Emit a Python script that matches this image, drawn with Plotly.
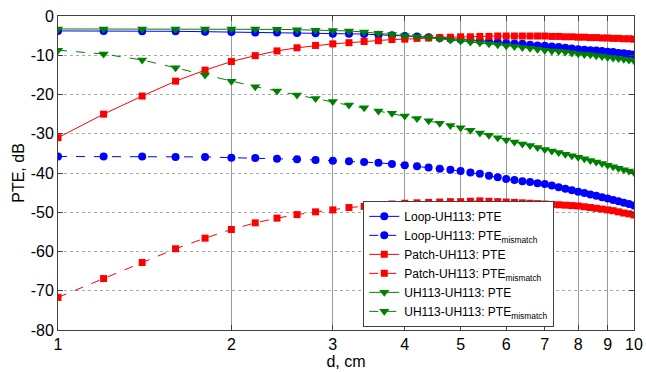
import plotly.graph_objects as go

d_cm = [1.0, 1.2, 1.4, 1.6, 1.8, 2.0, 2.2, 2.4, 2.6, 2.8, 3.0, 3.2, 3.4, 3.6, 3.8,
        4.0, 4.2, 4.4, 4.6, 4.8, 5.0, 5.2, 5.4, 5.6, 5.8, 6.0, 6.2, 6.4, 6.6, 6.8,
        7.0, 7.2, 7.4, 7.6, 7.8, 8.0, 8.2, 8.4, 8.6, 8.8, 9.0, 9.2, 9.4, 9.6, 9.8, 10.0]

loop_pte = [-3.8, -3.8, -3.9, -3.9, -4.0, -4.1, -4.2, -4.2, -4.3, -4.4, -4.5, -4.5, -4.6, -4.8, -4.9,
            -5.1, -5.2, -5.4, -5.6, -5.8, -6.0, -6.1, -6.3, -6.5, -6.7, -6.9, -7.0, -7.1, -7.3, -7.5,
            -7.6, -7.8, -7.9, -8.1, -8.3, -8.5, -8.6, -8.7, -8.8, -8.9, -9.1, -9.2, -9.4, -9.5, -9.7, -9.8]
loop_mis = [-35.8, -35.8, -35.8, -35.9, -35.9, -36.1, -36.2, -36.4, -36.5, -36.7, -36.9, -37.0, -37.2, -37.4, -37.7,
            -38.0, -38.3, -38.6, -38.9, -39.2, -39.5, -39.9, -40.2, -40.7, -41.1, -41.5, -41.8, -42.1, -42.3, -42.6,
            -42.8, -43.2, -43.6, -44.0, -44.4, -44.8, -45.1, -45.5, -45.8, -46.2, -46.5, -46.9, -47.2, -47.6, -47.9, -48.3]
patch_pte = [-31.0, -25.0, -20.4, -16.6, -13.8, -11.6, -10.1, -8.9, -8.1, -7.5, -7.1, -6.8, -6.5, -6.3, -6.0,
             -5.9, -5.7, -5.6, -5.5, -5.4, -5.3, -5.3, -5.2, -5.2, -5.1, -5.1, -5.1, -5.1, -5.1, -5.1,
             -5.1, -5.2, -5.2, -5.3, -5.3, -5.4, -5.4, -5.5, -5.5, -5.6, -5.6, -5.7, -5.7, -5.8, -5.8, -5.9]
patch_mis = [-71.7, -66.9, -62.8, -59.3, -56.6, -54.4, -52.7, -51.5, -50.6, -49.9, -49.4, -48.8, -48.5, -48.2, -47.9,
             -47.7, -47.6, -47.5, -47.4, -47.3, -47.3, -47.2, -47.1, -47.2, -47.3, -47.4, -47.5, -47.6, -47.7, -47.8,
             -47.9, -48.0, -48.1, -48.2, -48.3, -48.4, -48.6, -48.8, -49.0, -49.2, -49.4, -49.6, -49.9, -50.2, -50.4, -50.7]
uh_pte = [-3.3, -3.3, -3.3, -3.3, -3.3, -3.3, -3.3, -3.4, -3.5, -3.6, -3.7, -3.8, -4.1, -4.4, -4.7,
          -5.0, -5.2, -5.5, -5.8, -6.1, -6.4, -6.6, -6.8, -7.1, -7.3, -7.6, -7.8, -8.0, -8.2, -8.5,
          -8.7, -8.9, -9.0, -9.2, -9.4, -9.6, -9.8, -9.9, -10.1, -10.3, -10.5, -10.7, -10.8, -11.0, -11.2, -11.4]
uh_mis = [-8.7, -9.7, -11.2, -13.2, -15.0, -16.6, -18.0, -19.1, -20.1, -21.0, -21.8, -22.7, -23.4, -24.2, -24.8,
          -25.5, -26.1, -26.7, -27.3, -27.9, -28.5, -29.1, -29.8, -30.4, -31.0, -31.6, -32.1, -32.6, -33.0, -33.5,
          -34.0, -34.4, -34.8, -35.2, -35.6, -36.0, -36.4, -36.8, -37.2, -37.6, -38.0, -38.4, -38.8, -39.2, -39.5, -39.9]

x_ticks = [1, 2, 3, 4, 5, 6, 7, 8, 9, 10]
y_ticks = [0, -10, -20, -30, -40, -50, -60, -70, -80]

series = [
    ("Loop-UH113: PTE", loop_pte, "#0000ff", "circle", "solid", 8),
    ("Loop-UH113: PTE<sub>mismatch</sub>", loop_mis, "#0000ff", "circle", "dash", 8),
    ("Patch-UH113: PTE", patch_pte, "#ff0000", "square", "solid", 7),
    ("Patch-UH113: PTE<sub>mismatch</sub>", patch_mis, "#ff0000", "square", "dash", 7),
    ("UH113-UH113: PTE", uh_pte, "#008000", "triangle-down", "solid", 9),
    ("UH113-UH113: PTE<sub>mismatch</sub>", uh_mis, "#008000", "triangle-down", "dash", 9),
]

fig = go.Figure()
for name, vals, col, sym, dash, ms in series:
    fig.add_trace(go.Scatter(
        x=d_cm, y=vals, name=name, mode="lines+markers",
        line=dict(color=col, width=1, dash=dash),
        marker=dict(color=col, symbol=sym, size=ms, line=dict(width=0)),
    ))

fam = "Liberation Sans, Arial, sans-serif"

fig.update_layout(
    width=646, height=372,
    margin=dict(l=58, r=12, t=16, b=42),
    paper_bgcolor="white", plot_bgcolor="white",
    font=dict(family=fam, size=16, color="#000000"),
    showlegend=True,
    legend=dict(
        x=0.53, y=0.01, xanchor="left", yanchor="bottom",
        bgcolor="white", bordercolor="#404040", borderwidth=1,
        font=dict(family=fam, size=12, color="#000000"),
        tracegroupgap=0, itemwidth=30,
    ),
    xaxis=dict(
        type="log", range=[0, 1], automargin=False,
        tickvals=x_ticks, ticktext=[str(v) for v in x_ticks],
        showgrid=True, gridcolor="#999999", gridwidth=1,
        showline=True, linecolor="#404040", linewidth=1, mirror="ticks",
        ticks="inside", ticklen=5, tickcolor="#404040",
        title=dict(text="d, cm", font=dict(size=16), standoff=0),
        tickfont=dict(size=16),
        zeroline=False,
    ),
    yaxis=dict(
        range=[-80, 0], automargin=False,
        tickvals=y_ticks, ticktext=[str(v) for v in y_ticks],
        showgrid=True, gridcolor="#aaaaaa", gridwidth=1, griddash="dot",
        showline=True, linecolor="#404040", linewidth=1, mirror="ticks",
        ticks="inside", ticklen=5, tickcolor="#404040",
        title=dict(text="PTE, dB", font=dict(size=16), standoff=2),
        tickfont=dict(size=16),
        zeroline=False,
    ),
)

fig.write_html("out.html")
